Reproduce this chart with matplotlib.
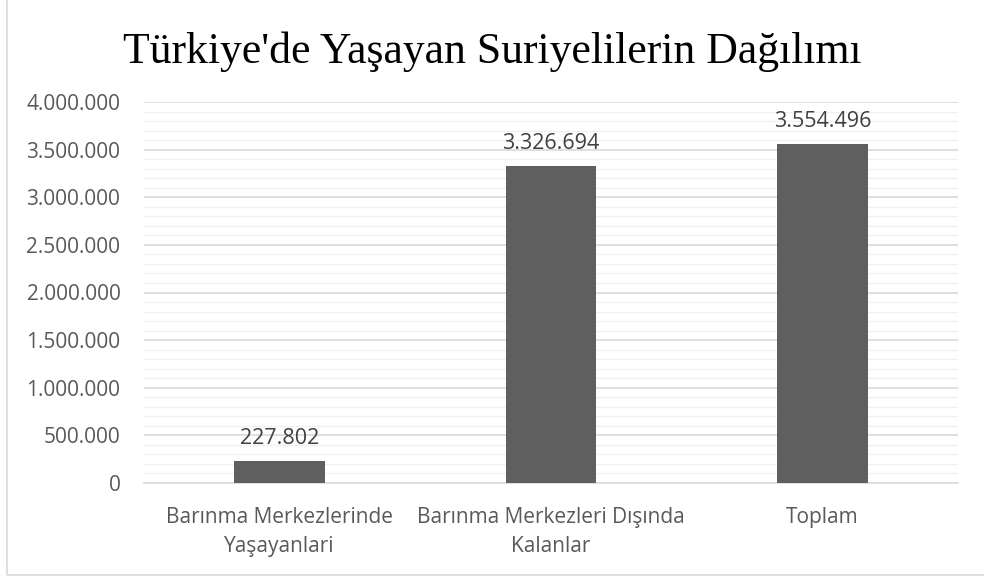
import matplotlib
matplotlib.use("Agg")
import matplotlib.pyplot as plt
from matplotlib.ticker import MultipleLocator, FuncFormatter
from matplotlib.patches import Rectangle

title = "Türkiye'de Yaşayan Suriyelilerin Dağılımı"
categories = ["Barınma Merkezlerinde\nYaşayanlari", "Barınma Merkezleri Dışında\nKalanlar", "Toplam"]
values = [227802, 3326694, 3554496]
value_labels = ["227.802", "3.326.694", "3.554.496"]

def fmt(v, pos=None):
    return "{:,.0f}".format(v).replace(",", ".")

fig = plt.figure(figsize=(9.84, 5.79), dpi=100)
fig.patch.set_facecolor("white")
# outer chart border (left and bottom visible)
fig.patches.append(Rectangle((7/984, 4/579), 1.0, 1.0, transform=fig.transFigure,
                             fill=False, edgecolor="#d9d9d9", linewidth=1.2))

ax = fig.add_axes([144/984, 1 - 483/579, (958 - 144)/984, (483 - 102)/579])
x = range(len(categories))
bars = ax.bar(x, values, width=0.335, color="#5f5f5f", zorder=3)
ax.set_xlim(-0.5, 2.5)
ax.set_ylim(0, 4000000)
ax.yaxis.set_major_locator(MultipleLocator(500000))
ax.yaxis.set_minor_locator(MultipleLocator(100000))
ax.yaxis.set_major_formatter(FuncFormatter(fmt))
ax.grid(axis="y", which="major", color="#d9d9d9", linewidth=1.2, zorder=0)
ax.grid(axis="y", which="minor", color="#f0f0f0", linewidth=1.0, zorder=0)
for s in ["top", "right", "left"]:
    ax.spines[s].set_visible(False)
ax.spines["bottom"].set_color("#d9d9d9")
ax.spines["bottom"].set_linewidth(1.2)
ax.tick_params(axis="both", which="both", length=0, labelsize=15, labelcolor="#595959")
ax.tick_params(axis="y", pad=17)
ax.tick_params(axis="x", pad=17)
ax.set_xticks(list(x))
ax.set_xticklabels(categories, fontsize=15, color="#595959", linespacing=1.55)
for lbl in ax.get_xticklabels() + ax.get_yticklabels():
    lbl.set_family("Open Sans")

for xi, v, t in zip(x, values, value_labels):
    ax.annotate(t, (xi, v), xytext=(0, 9), textcoords="offset points",
                ha="center", va="bottom", fontsize=15.5, color="#404040", family="Open Sans")

fig.text(0.5, 1 - 52/579, title, ha="center", va="center", fontsize=31.5,
         family="Liberation Serif", color="black")

fig.savefig("out.png", dpi=100)
